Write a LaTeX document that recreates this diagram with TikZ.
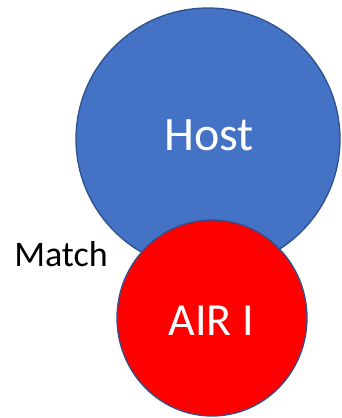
\documentclass[tikz,border=0pt]{standalone}
\usepackage{fontspec}
\setmainfont{Carlito}
\usetikzlibrary{shapes.geometric}
\definecolor{hostblue}{HTML}{4472C4}
\definecolor{edgeblue}{HTML}{2F528F}
\tikzset{
  blob/.style={ellipse, draw=edgeblue, line width=1.3pt, inner sep=0pt},
  bigtext/.style={text=white, font=\fontsize{48}{56}\selectfont},
}
\begin{document}
\begin{tikzpicture}[x=1pt,y=-1pt]
\useasboundingbox (0,0) rectangle (341,418);
\node[blob, fill=hostblue, minimum width=264pt, minimum height=262pt] (host) at (208,139) {};
\node[blob, fill=red, minimum width=190pt, minimum height=196pt] (air) at (212,318) {};
\node[bigtext, anchor=base] (hosttxt) at (209,150) {Host};
\node[bigtext, anchor=base, font=\fontsize{46}{54}\selectfont] (airtxt) at (211,335) {AIR I};
\node[anchor=base, font=\fontsize{36}{42}\selectfont] (match) at (61,266) {Match};
\end{tikzpicture}
\end{document}
